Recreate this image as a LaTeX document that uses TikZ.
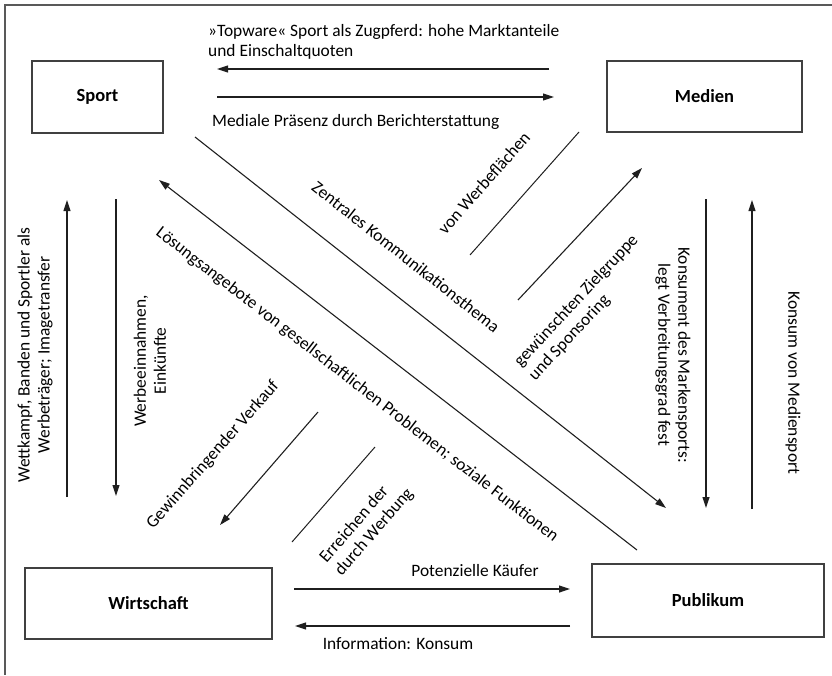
\documentclass[tikz,border=0pt]{standalone}
\usepackage{fontspec}
\setmainfont{Carlito}
\usetikzlibrary{arrows.meta}
\begin{document}
\begin{tikzpicture}[x=1pt,y=-1pt,
  box/.style={draw=black!75,line width=1.3pt,inner sep=0pt,font=\bfseries\fontsize{18.5}{20}\selectfont},
  lbl/.style={font=\fontsize{17.4}{20}\selectfont,inner sep=1pt,text=black},
  arr/.style={draw=black!88,line width=1.1pt,-{Triangle[length=11pt,width=7pt]}},
  ln/.style={draw=black!88,line width=1pt},
  frame/.style={draw=black!65,line width=1.5pt}
]
\useasboundingbox (0,0) rectangle (832,675);
% frame (top and left only)
\draw[frame] (4,5) -- (832,5);
\draw[frame] (5,4) -- (5,675);

% boxes
\node[box,minimum width=131pt,minimum height=72pt] (sport) at (97.5,97) {Sport};
\node[box,minimum width=195pt,minimum height=71pt] (medien) at (704.5,96.5) {Medien};
\node[box,minimum width=247pt,minimum height=71pt] (wirtschaft) at (148.5,603.5) {Wirtschaft};
\node[box,minimum width=232pt,minimum height=73pt] (publikum) at (708,600.5) {Publikum};

% connector end points
\coordinate (t1a) at (549,69);  \coordinate (t1b) at (217,69);
\coordinate (t2a) at (217,97);  \coordinate (t2b) at (554,97);
\coordinate (l1a) at (67,497);  \coordinate (l1b) at (67,200);
\coordinate (l2a) at (116,199); \coordinate (l2b) at (116,496);
\coordinate (r1a) at (706,199); \coordinate (r1b) at (706,508);
\coordinate (r2a) at (752,509); \coordinate (r2b) at (752,200);
\coordinate (d1a) at (195,137); \coordinate (d1b) at (666,508);
\coordinate (d2a) at (637,550); \coordinate (d2b) at (159,180);
\coordinate (d3a) at (470,255); \coordinate (d3b) at (579,132);
\coordinate (d4a) at (518,300); \coordinate (d4b) at (642,168);
\coordinate (d5a) at (318,412); \coordinate (d5b) at (220,525);
\coordinate (d6a) at (292,542); \coordinate (d6b) at (375,447);
\coordinate (b1a) at (294,589); \coordinate (b1b) at (570,589);
\coordinate (b2a) at (570,626); \coordinate (b2b) at (295,626);

% connectors
\draw[arr] (t1a) -- (t1b);
\draw[arr] (t2a) -- (t2b);
\draw[arr] (l1a) -- (l1b);
\draw[arr] (l2a) -- (l2b);
\draw[arr] (r1a) -- (r1b);
\draw[arr] (r2a) -- (r2b);
\draw[arr] (d1a) -- (d1b);
\draw[arr] (d2a) -- (d2b);
\draw[ln]  (d3a) -- (d3b);
\draw[arr] (d4a) -- (d4b);
\draw[arr] (d5a) -- (d5b);
\draw[ln]  (d6a) -- (d6b);
\draw[arr] (b1a) -- (b1b);
\draw[arr] (b2a) -- (b2b);

% labels
\node[lbl,align=left,anchor=west] (topware) at (207,42)
  {»Topware« Sport als Zugpferd: hohe Marktanteile\\und Einschaltquoten};
\node[lbl,anchor=west] (mediale) at (211,122) {Mediale Präsenz durch Berichterstattung};
\node[lbl,align=center,rotate=90] (wettkampf) at (35,355)
  {Wettkampf, Banden und Sportler als\\Werbeträger; Imagetransfer};
\node[lbl,align=center,rotate=90] (werbeein) at (150,361) {Werbeeinnahmen,\\Einkünfte};
\node[lbl,align=center,rotate=-90] (konsument) at (673,355)
  {Konsument des Markensports:\\legt Verbreitungsgrad fest};
\node[lbl,rotate=-90] (konsum) at (793,383) {Konsum von Mediensport};
\node[lbl,rotate=-38.2] (zentral) at (406,257) {Zentrales Kommunikationsthema};
\node[lbl,rotate=-37.7] (loesung) at (357,385)
  {Lösungsangebote von gesellschaftlichen Problemen; soziale Funktionen};
\node[lbl,rotate=48.5] (werbefl) at (484,183) {von Werbeflächen};
\node[lbl,align=left,anchor=west,rotate=47] (zielgr) at (524,372)
  {gewünschten Zielgruppe\\und Sponsoring};
\node[lbl,rotate=48.6] (gewinn) at (213,455) {Gewinnbringender Verkauf};
\node[lbl,align=left,anchor=west,rotate=49] (erreichen) at (330,568)
  {Erreichen der\\durch Werbung};
\node[lbl] (kaeufer) at (475,571) {Potenzielle Käufer};
\node[lbl] (info) at (398,644) {Information: Konsum};
\end{tikzpicture}
\end{document}
